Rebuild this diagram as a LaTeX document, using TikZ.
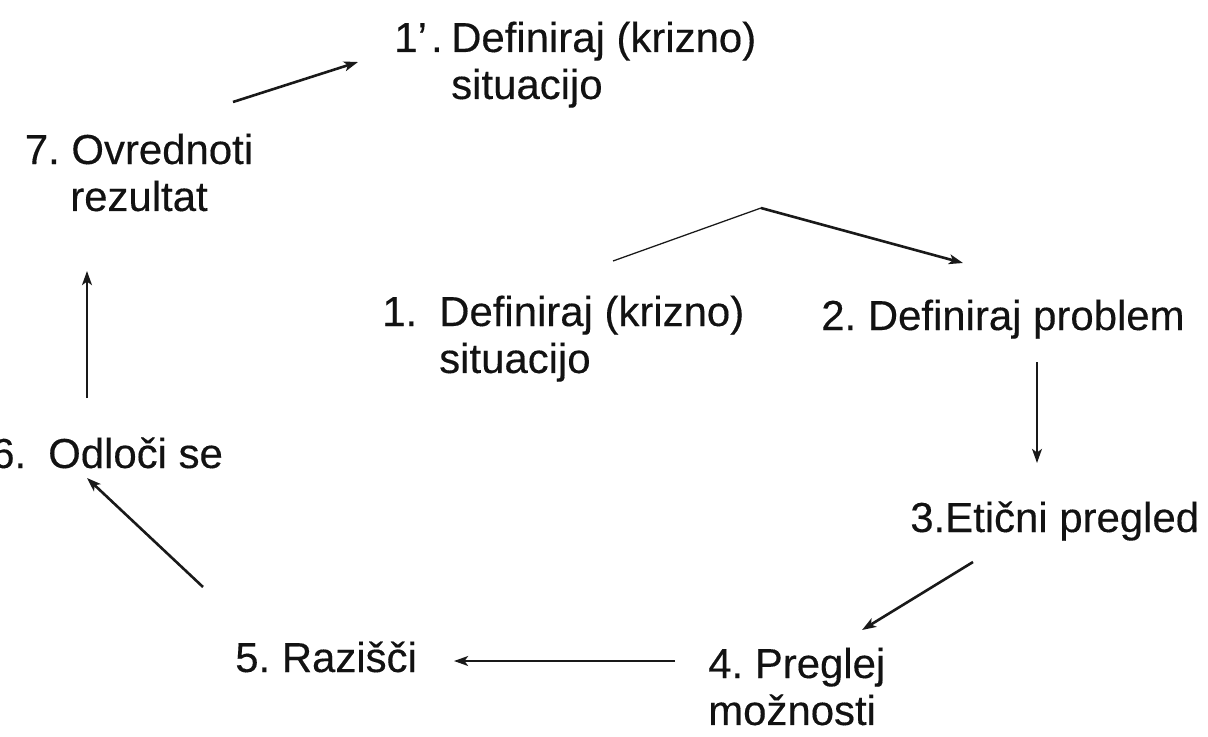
\documentclass[tikz,border=0pt]{standalone}
\usepackage{fontspec}
\setmainfont[FakeBold=0.3]{Liberation Sans}
\usetikzlibrary{arrows.meta}
% fixed-width lead-in for a numbered item (acts like a tab stop)
\newcommand\itemlead[1]{\makebox[40.5pt][l]{#1}}
\begin{document}
\frenchspacing
\begin{tikzpicture}[x=0.025cm,y=-0.025cm,
  lbl/.style={anchor=base west, inner sep=0pt, text=black!93,
              font=\fontsize{29.8}{33.4}\selectfont},
  arr/.style={line width=1.85pt, draw=black!90,
              -{Stealth[length=10pt,width=7pt,inset=2.5pt]}}]
\useasboundingbox (0,0) rectangle (1208,736);
\fill[white] (0,0) rectangle (1208,736);

% step labels
\node[lbl] (n1p) at (394,52) {\begin{tabular}[t]{@{}l@{}}\itemlead{1’\hspace{3pt}.}Definiraj (krizno)\\ \itemlead{}situacijo\end{tabular}};
\node[lbl, anchor=base] (n7) at (139,164) {\begin{tabular}[t]{@{}c@{}}7. Ovrednoti\\ rezultat\end{tabular}};
\node[lbl] (n1) at (382,326) {\begin{tabular}[t]{@{}l@{}}\itemlead{1.}Definiraj (krizno)\\ \itemlead{}situacijo\end{tabular}};
\node[lbl] (n2) at (821,330) {2. Definiraj problem};
\node[lbl] (n3) at (910,532) {3.Etični pregled};
\node[lbl] (n4) at (708,678) {\begin{tabular}[t]{@{}l@{}}4. Preglej\\ možnosti\end{tabular}};
\node[lbl] (n5) at (235,672) {5. Razišči};
\node[lbl] (n6) at (-9,468) {\itemlead{6.}Odloči se};

% connector end points
\coordinate (c7a) at (233,102);  \coordinate (c7b) at (358,62);
\coordinate (c6a) at (87,398);   \coordinate (c6b) at (87,271);
\coordinate (c5a) at (203,587);  \coordinate (c5b) at (87,478);
\coordinate (c4a) at (675,661);  \coordinate (c4b) at (454,661);
\coordinate (c3a) at (973,562);  \coordinate (c3b) at (862,630);
\coordinate (c2a) at (1037,362); \coordinate (c2b) at (1037,463);
\coordinate (c1a) at (613,261);  \coordinate (c1m) at (761,208);
\coordinate (c1b) at (963,263);

% cycle arrows
\draw[arr] (c7a) -- (c7b);
\draw[arr] (c6a) -- (c6b);
\draw[arr] (c5a) -- (c5b);
\draw[arr, line width=1.6pt] (c4a) -- (c4b);
\draw[arr] (c3a) -- (c3b);
\draw[arr, line width=1.5pt] (c2a) -- (c2b);
\draw[line width=0.9pt, draw=black!90] (c1a) -- (c1m);
\draw[arr] (c1m) -- (c1b);
\end{tikzpicture}
\end{document}
